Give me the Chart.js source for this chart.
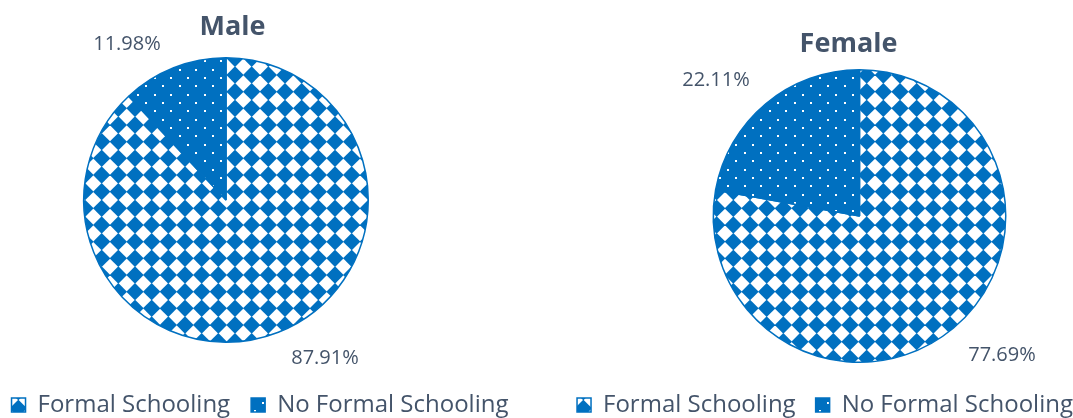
<!DOCTYPE html>
<html>
<head>
<meta charset="utf-8">
<script src="https://cdn.jsdelivr.net/npm/chart.js@4.4.0/dist/chart.umd.min.js"></script>
<style>
  html, body { margin:0; padding:0; background:#ffffff; }
  body { width:1073px; height:418px; position:relative; overflow:hidden; }
  .wrap { position:absolute; top:0; width:600px; height:427px; }
  #w1 { left:-40px; }
  #w2 { left:525px; }
</style>
</head>
<body>
<div class="wrap" id="w1"><canvas id="c1" width="600" height="427"></canvas></div>
<div class="wrap" id="w2"><canvas id="c2" width="600" height="427"></canvas></div>
<script>
// ---- data ----
const categories = ['Formal Schooling', 'No Formal Schooling'];
const maleValues = [87.91, 11.98];
const femaleValues = [77.69, 22.11];
const chartTitles = ['Male', 'Female'];

// ---- styles ----
const BLUE = '#0070C0';
const TEXT = '#44546A';
const FONT = "'Open Sans', 'DejaVu Sans', sans-serif";

function diamondPattern() {
  const c = document.createElement('canvas');
  c.width = 50; c.height = 50;
  const g = c.getContext('2d');
  g.fillStyle = '#ffffff'; g.fillRect(0, 0, 50, 50);
  g.fillStyle = BLUE;
  const s = 50 / 3, h = s * 0.52;
  for (let i = -1; i <= 4; i++) {
    for (let j = -1; j <= 4; j++) {
      const x = i * s + s / 2, y = j * s + s / 2;
      g.beginPath();
      g.moveTo(x, y - h); g.lineTo(x + h, y); g.lineTo(x, y + h); g.lineTo(x - h, y);
      g.closePath(); g.fill();
    }
  }
  return g.createPattern(c, 'repeat');
}
function dotPattern() {
  const c = document.createElement('canvas');
  c.width = 50; c.height = 50;
  const g = c.getContext('2d');
  g.fillStyle = BLUE; g.fillRect(0, 0, 50, 50);
  g.fillStyle = '#ffffff';
  const s = 50 / 3;
  for (let i = 0; i < 3; i++) {
    for (let j = 0; j < 3; j++) {
      g.fillRect(Math.round(i * s + 2), Math.round(j * s + 2), 2, 2);
      g.fillRect(Math.round(i * s + s / 2 + 2), Math.round(j * s + s / 2 + 2), 2, 2);
    }
  }
  return g.createPattern(c, 'repeat');
}

// place the pie at a given box inside the canvas
const pieBoxPlugin = {
  id: 'pieBox',
  afterLayout(chart, args, opts) {
    const r = opts.r, cx = opts.cx, cy = opts.cy;
    Object.assign(chart.chartArea, {
      left: cx - r, right: cx + r, top: cy - r, bottom: cy + r, width: 2 * r, height: 2 * r
    });
  }
};

// title + outside percentage labels
const textPlugin = {
  id: 'pieText',
  afterDraw(chart, args, opts) {
    const ctx = chart.ctx;
    const meta = chart.getDatasetMeta(0);
    const data = chart.data.datasets[0].data;
    const arc0 = meta.data[0];
    const cx = arc0.x, cy = arc0.y;
    ctx.save();
    ctx.fillStyle = TEXT;
    ctx.textAlign = 'center';
    ctx.textBaseline = 'alphabetic';
    ctx.font = 'bold 27px ' + FONT;
    ctx.fillText(opts.title, cx + opts.titleDx, cy + opts.titleDy);
    ctx.font = '20px ' + FONT;
    ctx.textBaseline = 'middle';
    data.forEach((v, i) => {
      const off = opts.labelOffsets[i];
      ctx.fillText(v.toFixed(2) + '%', cx + off[0], cy + off[1]);
    });
    ctx.restore();
  }
};

function makeChart(id, values, title, box, titleOff, labelOffsets, legendPad) {
  return new Chart(document.getElementById(id), {
    type: 'pie',
    data: {
      labels: categories,
      datasets: [{
        data: values,
        backgroundColor: [diamondPattern(), dotPattern()],
        borderColor: BLUE,
        borderWidth: 1.5,
        clip: false
      }]
    },
    options: {
      responsive: false,
      animation: false,
      events: [],
      layout: { padding: 0 },
      plugins: {
        tooltip: { enabled: false },
        title: { display: false },
        legend: {
          display: true,
          position: 'bottom',
          align: 'center',
          labels: {
            boxWidth: 14,
            boxHeight: 14,
            padding: legendPad,
            color: TEXT,
            font: { family: FONT, size: 24 }
          }
        },
        pieBox: box,
        pieText: { title: title, titleDx: titleOff[0], titleDy: titleOff[1], labelOffsets: labelOffsets }
      }
    },
    plugins: [pieBoxPlugin, textPlugin]
  });
}

makeChart('c1', maleValues, chartTitles[0], { cx: 266, cy: 200, r: 143 }, [6.5, -165], [[99, 158], [-99, -155.5]], 21);
makeChart('c2', femaleValues, chartTitles[1], { cx: 334.5, cy: 216, r: 147 }, [-11, -164], [[142.5, 139], [-143.5, -135.5]], 20);
</script>
</body>
</html>
